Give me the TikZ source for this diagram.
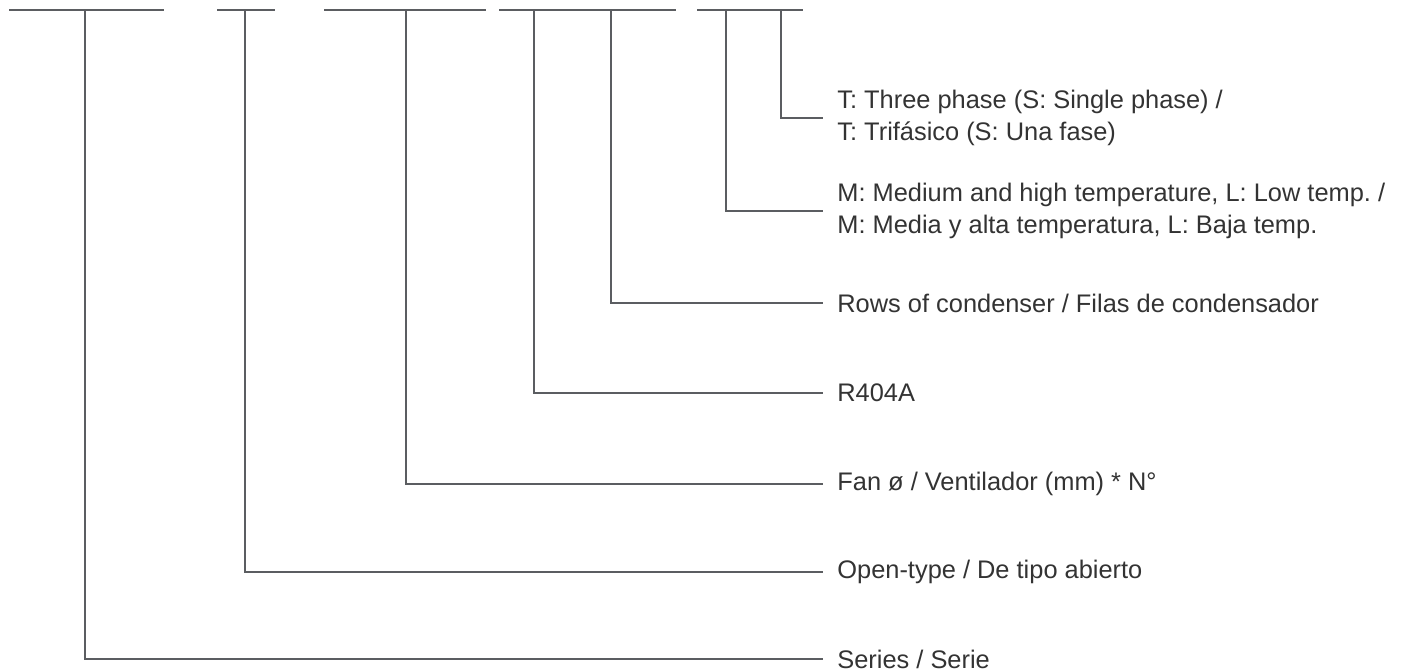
\documentclass[tikz,border=0pt]{standalone}
\usepackage{fontspec}
\setmainfont{Liberation Sans}
\usetikzlibrary{positioning}
\definecolor{rulegray}{HTML}{5B5D61}
\definecolor{ink}{HTML}{333333}
\tikzset{
  codebar/.style={draw=rulegray, line width=1.35pt},
  leader/.style={draw=rulegray, line width=1.35pt},
  lab/.style={anchor=west, inner xsep=7pt, inner ysep=0pt, text=ink,
              font=\fontsize{12.7}{16}\selectfont, align=left},
}

\begin{document}
\begin{tikzpicture}[x=0.5pt, y=-0.5pt]
  \useasboundingbox (0,0) rectangle (1420,672);
  % code character bars along the top
  \draw[codebar] (9,10) -- (164,10);
  \draw[codebar] (217,10) -- (275,10);
  \draw[codebar] (324,10) -- (486,10);
  \draw[codebar] (499,10) -- (543,10);
  \draw[codebar] (543,10) -- (676,10);
  \draw[codebar] (697,10) -- (757,10);
  \draw[codebar] (757,10) -- (803,10);
  % stem tops
  \coordinate (ser) at (85,10);
  \coordinate (opn) at (245,10);
  \coordinate (fan) at (406,10);
  \coordinate (ref) at (534,10);
  \coordinate (row) at (611,10);
  \coordinate (tmp) at (726,10);
  \coordinate (pha) at (781,10);
  % labels
  \node[lab] (phaL) at (823,118) {T: Three phase (S: Single phase) /\\T: Trifásico (S: Una fase)};
  \node[lab] (tmpL) at (823,211) {M: Medium and high temperature, L: Low temp.\ /\\M: Media y alta temperatura, L: Baja temp.};
  \node[lab] (rowL) at (823,303) {Rows of condenser / Filas de condensador};
  \node[lab] (refL) at (823,393) {R404A};
  \node[lab] (fanL) at (823,484) {Fan ø / Ventilador (mm) * N°};
  \node[lab] (opnL) at (823,572) {Open-type / De tipo abierto};
  \node[lab] (serL) at (823,659) {Series / Serie};
  % leaders
  \draw[leader] (pha) |- (phaL.west);
  \draw[leader] (tmp) |- (tmpL.west);
  \draw[leader] (row) |- (rowL.west);
  \draw[leader] (ref) |- (refL.west);
  \draw[leader] (fan) |- (fanL.west);
  \draw[leader] (opn) |- (opnL.west);
  \draw[leader] (ser) |- (serL.west);
\end{tikzpicture}
\end{document}
